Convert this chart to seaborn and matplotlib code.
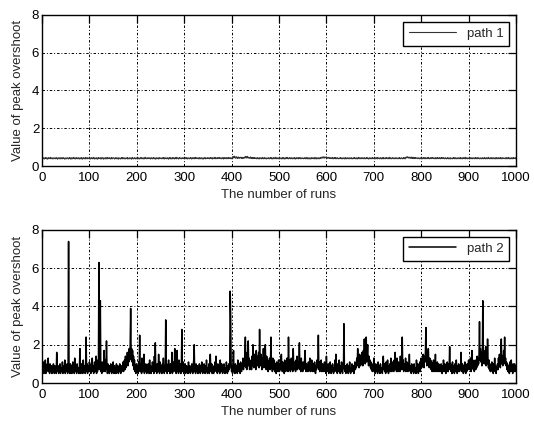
import numpy as np
import matplotlib
matplotlib.use("Agg")
import matplotlib.pyplot as plt
import seaborn as sns

# valeurs (1000 runs par chemin)
path1 = [
    0.42, 0.39, 0.44, 0.41, 0.37, 0.43, 0.40, 0.45, 0.38, 0.42, 0.41, 0.36, 0.44, 0.40, 0.43, 0.39, 0.42, 0.46, 0.38, 0.41, 0.44, 0.40, 0.37, 0.43, 0.41,
    0.40, 0.43, 0.38, 0.42, 0.45, 0.39, 0.41, 0.36, 0.44, 0.42, 0.40, 0.43, 0.37, 0.41, 0.45, 0.39, 0.42, 0.38, 0.44, 0.40, 0.43, 0.41, 0.36, 0.42, 0.39,
    0.43, 0.38, 0.41, 0.44, 0.40, 0.37, 0.42, 0.45, 0.39, 0.43, 0.36, 0.41, 0.44, 0.38, 0.42, 0.40, 0.46, 0.39, 0.41, 0.37, 0.43, 0.40, 0.44, 0.38, 0.42,
    0.39, 0.44, 0.40, 0.37, 0.43, 0.41, 0.38, 0.45, 0.42, 0.36, 0.40, 0.44, 0.39, 0.43, 0.41, 0.37, 0.45, 0.40, 0.42, 0.38, 0.44, 0.39, 0.41, 0.43, 0.40,
    0.41, 0.37, 0.43, 0.40, 0.44, 0.38, 0.42, 0.39, 0.46, 0.41, 0.37, 0.43, 0.40, 0.38, 0.44, 0.42, 0.36, 0.41, 0.45, 0.39, 0.42, 0.40, 0.43, 0.37, 0.44,
    0.38, 0.42, 0.45, 0.40, 0.36, 0.43, 0.41, 0.39, 0.44, 0.37, 0.42, 0.40, 0.46, 0.38, 0.41, 0.43, 0.39, 0.44, 0.40, 0.37, 0.42, 0.45, 0.38, 0.41, 0.43,
    0.44, 0.40, 0.37, 0.42, 0.39, 0.45, 0.41, 0.38, 0.43, 0.40, 0.36, 0.44, 0.42, 0.39, 0.41, 0.37, 0.43, 0.40, 0.45, 0.38, 0.42, 0.39, 0.44, 0.41, 0.37,
    0.40, 0.43, 0.39, 0.41, 0.45, 0.37, 0.42, 0.40, 0.38, 0.44, 0.41, 0.39, 0.43, 0.36, 0.42, 0.45, 0.40, 0.38, 0.41, 0.44, 0.39, 0.42, 0.37, 0.43, 0.40,
    0.42, 0.38, 0.44, 0.40, 0.37, 0.41, 0.43, 0.39, 0.45, 0.42, 0.38, 0.40, 0.44, 0.41, 0.37, 0.43, 0.39, 0.46, 0.40, 0.42, 0.38, 0.41, 0.44, 0.39, 0.43,
    0.39, 0.43, 0.41, 0.37, 0.44, 0.40, 0.42, 0.38, 0.41, 0.45, 0.39, 0.43, 0.40, 0.36, 0.42, 0.44, 0.38, 0.41, 0.43, 0.40, 0.37, 0.45, 0.41, 0.39, 0.42,
    0.43, 0.40, 0.38, 0.44, 0.41, 0.39, 0.45, 0.37, 0.42, 0.40, 0.43, 0.38, 0.41, 0.44, 0.39, 0.42, 0.36, 0.43, 0.40, 0.45, 0.38, 0.42, 0.41, 0.37, 0.44,
    0.41, 0.44, 0.39, 0.42, 0.37, 0.43, 0.40, 0.46, 0.38, 0.41, 0.44, 0.40, 0.37, 0.42, 0.45, 0.39, 0.41, 0.43, 0.38, 0.40, 0.44, 0.42, 0.39, 0.43, 0.40,
    0.38, 0.42, 0.40, 0.45, 0.39, 0.41, 0.37, 0.44, 0.42, 0.40, 0.38, 0.43, 0.41, 0.45, 0.39, 0.37, 0.42, 0.44, 0.40, 0.43, 0.38, 0.41, 0.46, 0.39, 0.42,
    0.44, 0.39, 0.42, 0.40, 0.43, 0.37, 0.41, 0.45, 0.40, 0.38, 0.42, 0.44, 0.39, 0.41, 0.36, 0.43, 0.40, 0.42, 0.45, 0.38, 0.41, 0.39, 0.43, 0.40, 0.44,
    0.40, 0.42, 0.38, 0.43, 0.41, 0.45, 0.39, 0.40, 0.44, 0.37, 0.42, 0.40, 0.43, 0.39, 0.46, 0.41, 0.38, 0.42, 0.40, 0.44, 0.39, 0.43, 0.41, 0.45, 0.42,
    0.39, 0.43, 0.41, 0.38, 0.44, 0.40, 0.42, 0.37, 0.45, 0.41, 0.39, 0.43, 0.40, 0.44, 0.38, 0.42, 0.41, 0.45, 0.39, 0.43, 0.40, 0.44, 0.42, 0.38, 0.41,
    0.44, 0.48, 0.42, 0.50, 0.45, 0.52, 0.43, 0.47, 0.41, 0.49, 0.44, 0.46, 0.40, 0.48, 0.43, 0.45, 0.41, 0.47, 0.44, 0.42, 0.46, 0.40, 0.44, 0.42, 0.45,
    0.41, 0.47, 0.43, 0.50, 0.44, 0.48, 0.42, 0.51, 0.45, 0.43, 0.47, 0.41, 0.45, 0.43, 0.48, 0.40, 0.44, 0.42, 0.46, 0.39, 0.43, 0.41, 0.45, 0.40, 0.42,
    0.40, 0.43, 0.38, 0.42, 0.45, 0.39, 0.41, 0.37, 0.44, 0.42, 0.40, 0.43, 0.38, 0.41, 0.45, 0.39, 0.42, 0.38, 0.44, 0.40, 0.43, 0.41, 0.37, 0.42, 0.39,
    0.42, 0.39, 0.44, 0.41, 0.38, 0.43, 0.40, 0.45, 0.38, 0.42, 0.41, 0.37, 0.44, 0.40, 0.43, 0.39, 0.42, 0.46, 0.38, 0.41, 0.44, 0.40, 0.38, 0.43, 0.41,
    0.43, 0.38, 0.41, 0.44, 0.40, 0.37, 0.42, 0.45, 0.39, 0.43, 0.37, 0.41, 0.44, 0.38, 0.42, 0.40, 0.46, 0.39, 0.41, 0.38, 0.43, 0.40, 0.44, 0.38, 0.42,
    0.39, 0.44, 0.40, 0.38, 0.43, 0.41, 0.38, 0.45, 0.42, 0.37, 0.40, 0.44, 0.39, 0.43, 0.41, 0.38, 0.45, 0.40, 0.42, 0.38, 0.44, 0.39, 0.41, 0.43, 0.40,
    0.41, 0.38, 0.43, 0.40, 0.44, 0.38, 0.42, 0.39, 0.46, 0.41, 0.37, 0.43, 0.40, 0.38, 0.44, 0.42, 0.37, 0.41, 0.45, 0.39, 0.42, 0.40, 0.43, 0.38, 0.44,
    0.38, 0.42, 0.45, 0.40, 0.37, 0.43, 0.41, 0.39, 0.44, 0.38, 0.42, 0.40, 0.46, 0.41, 0.44, 0.48, 0.42, 0.47, 0.43, 0.49, 0.42, 0.46, 0.44, 0.48, 0.43,
    0.47, 0.42, 0.45, 0.41, 0.46, 0.43, 0.40, 0.44, 0.42, 0.39, 0.43, 0.40, 0.45, 0.38, 0.42, 0.39, 0.44, 0.41, 0.45, 0.38, 0.42, 0.39, 0.44, 0.41, 0.38,
    0.40, 0.43, 0.39, 0.41, 0.45, 0.38, 0.42, 0.40, 0.38, 0.44, 0.41, 0.39, 0.43, 0.37, 0.42, 0.45, 0.40, 0.38, 0.41, 0.44, 0.39, 0.42, 0.38, 0.43, 0.40,
    0.42, 0.38, 0.44, 0.40, 0.38, 0.41, 0.43, 0.39, 0.45, 0.42, 0.38, 0.40, 0.44, 0.41, 0.37, 0.43, 0.39, 0.46, 0.40, 0.42, 0.38, 0.41, 0.44, 0.39, 0.43,
    0.39, 0.43, 0.41, 0.38, 0.44, 0.40, 0.42, 0.38, 0.41, 0.45, 0.39, 0.43, 0.40, 0.37, 0.42, 0.44, 0.38, 0.41, 0.43, 0.40, 0.38, 0.45, 0.41, 0.39, 0.42,
    0.43, 0.40, 0.38, 0.44, 0.41, 0.39, 0.45, 0.38, 0.42, 0.40, 0.43, 0.38, 0.41, 0.44, 0.39, 0.42, 0.37, 0.43, 0.40, 0.45, 0.38, 0.42, 0.41, 0.38, 0.44,
    0.41, 0.44, 0.39, 0.42, 0.38, 0.43, 0.40, 0.46, 0.38, 0.41, 0.44, 0.40, 0.38, 0.42, 0.45, 0.39, 0.41, 0.43, 0.38, 0.40, 0.44, 0.42, 0.39, 0.43, 0.40,
    0.38, 0.42, 0.40, 0.45, 0.39, 0.41, 0.38, 0.44, 0.42, 0.40, 0.38, 0.43, 0.41, 0.45, 0.39, 0.38, 0.42, 0.47, 0.43, 0.49, 0.44, 0.48, 0.42, 0.46, 0.43,
    0.47, 0.41, 0.45, 0.42, 0.48, 0.40, 0.44, 0.42, 0.46, 0.39, 0.43, 0.41, 0.45, 0.40, 0.42, 0.44, 0.39, 0.41, 0.43, 0.40, 0.38, 0.42, 0.44, 0.39, 0.41,
    0.40, 0.42, 0.38, 0.43, 0.41, 0.45, 0.39, 0.40, 0.44, 0.38, 0.42, 0.40, 0.43, 0.39, 0.46, 0.41, 0.38, 0.42, 0.40, 0.44, 0.39, 0.43, 0.41, 0.45, 0.42,
    0.39, 0.43, 0.41, 0.38, 0.44, 0.40, 0.42, 0.38, 0.45, 0.41, 0.39, 0.43, 0.40, 0.44, 0.38, 0.42, 0.41, 0.45, 0.39, 0.43, 0.40, 0.44, 0.42, 0.38, 0.41,
    0.44, 0.40, 0.38, 0.42, 0.39, 0.45, 0.41, 0.38, 0.43, 0.40, 0.37, 0.44, 0.42, 0.39, 0.41, 0.38, 0.43, 0.40, 0.45, 0.38, 0.42, 0.39, 0.44, 0.41, 0.38,
    0.42, 0.39, 0.44, 0.41, 0.38, 0.43, 0.40, 0.45, 0.38, 0.42, 0.41, 0.38, 0.44, 0.40, 0.43, 0.39, 0.42, 0.46, 0.38, 0.41, 0.44, 0.40, 0.38, 0.43, 0.41,
    0.40, 0.43, 0.38, 0.42, 0.45, 0.39, 0.41, 0.38, 0.44, 0.42, 0.40, 0.43, 0.38, 0.41, 0.45, 0.39, 0.42, 0.38, 0.44, 0.40, 0.43, 0.41, 0.38, 0.42, 0.39,
    0.43, 0.38, 0.41, 0.44, 0.40, 0.38, 0.42, 0.45, 0.39, 0.43, 0.38, 0.41, 0.44, 0.38, 0.42, 0.40, 0.46, 0.39, 0.41, 0.38, 0.43, 0.40, 0.44, 0.38, 0.42,
    0.39, 0.44, 0.40, 0.38, 0.43, 0.41, 0.38, 0.45, 0.42, 0.38, 0.40, 0.44, 0.39, 0.43, 0.41, 0.38, 0.45, 0.40, 0.42, 0.38, 0.44, 0.39, 0.41, 0.43, 0.40,
    0.41, 0.38, 0.43, 0.40, 0.44, 0.38, 0.42, 0.39, 0.46, 0.41, 0.38, 0.43, 0.40, 0.38, 0.44, 0.42, 0.38, 0.41, 0.45, 0.39, 0.42, 0.40, 0.43, 0.38, 0.44,
]

path2 = [
    0.9, 0.6, 1.1, 0.5, 0.8, 0.7, 1.2, 0.5, 0.9, 0.6, 1.0, 0.7, 1.3, 0.6, 0.8, 0.5, 1.0, 0.7, 0.6, 0.9,
    0.5, 0.8, 0.6, 1.0, 0.7, 0.5, 0.9, 0.6, 0.8, 0.5, 1.6, 0.7, 0.6, 0.9, 0.5, 0.8, 0.6, 1.0, 0.5, 0.7,
    0.8, 0.6, 1.1, 0.5, 0.7, 0.9, 0.6, 1.2, 0.5, 0.8, 0.7, 0.6, 1.0, 0.5, 0.9, 7.4, 0.6, 0.8, 0.5, 1.0,
    0.6, 0.9, 0.5, 0.7, 1.1, 0.6, 0.8, 0.5, 1.3, 0.7, 0.6, 0.9, 0.5, 1.0, 0.7, 0.6, 0.8, 0.5, 0.9, 1.8,
    0.7, 0.5, 1.0, 0.6, 0.8, 0.5, 1.2, 0.7, 0.6, 0.9, 0.5, 0.8, 2.4, 0.6, 1.0, 0.5, 0.7, 0.9, 0.6, 1.1,
    0.6, 0.8, 0.5, 1.0, 0.7, 1.3, 0.6, 0.9, 0.5, 0.8, 1.1, 0.6, 0.7, 1.4, 0.5, 0.9, 0.6, 1.2, 0.8, 6.3,
    0.7, 1.0, 4.3, 0.6, 0.9, 0.5, 1.1, 0.7, 0.6, 1.0, 1.7, 0.8, 0.6, 1.2, 0.7, 2.2, 0.9, 0.5, 1.0, 0.6,
    0.8, 0.5, 0.9, 0.6, 1.0, 0.7, 0.5, 0.8, 0.6, 1.1, 0.7, 0.5, 0.9, 0.6, 0.8, 0.5, 1.0, 0.7, 0.6, 0.9,
    0.5, 0.8, 0.6, 1.0, 0.7, 0.5, 0.9, 0.6, 0.8, 0.7, 1.1, 0.6, 0.9, 1.2, 0.7, 1.4, 0.8, 1.3, 1.0, 1.6,
    0.9, 1.5, 1.1, 1.8, 1.2, 2.0, 3.9, 1.3, 1.8, 1.1, 1.7, 0.9, 1.4, 0.7, 1.2, 0.6, 0.9, 0.5, 1.0, 0.7,
    0.6, 0.9, 0.5, 1.1, 0.7, 2.5, 0.6, 1.0, 0.8, 0.5, 1.3, 0.6, 0.9, 0.7, 1.5, 0.5, 0.8, 0.6, 1.0, 0.7,
    0.5, 0.8, 0.6, 1.0, 0.7, 0.5, 1.2, 0.6, 0.9, 0.5, 0.8, 0.7, 1.1, 0.6, 0.9, 0.5, 1.4, 0.7, 2.1, 0.6,
    0.9, 0.5, 1.0, 0.7, 0.6, 1.5, 0.8, 0.5, 1.1, 0.6, 0.9, 0.7, 0.5, 1.0, 0.6, 1.3, 0.8, 0.5, 0.9, 0.7,
    3.3, 0.6, 1.0, 0.5, 0.8, 0.7, 1.2, 0.6, 0.9, 0.5, 1.0, 0.7, 0.6, 1.6, 0.5, 0.8, 0.6, 1.1, 0.7, 1.8,
    0.6, 0.9, 0.5, 1.0, 1.7, 0.6, 0.8, 0.5, 1.2, 0.7, 0.6, 1.0, 0.5, 0.9, 2.8, 0.7, 0.6, 1.1, 0.5, 0.8,
    0.6, 1.0, 0.5, 0.7, 0.9, 0.6, 0.8, 0.5, 1.1, 0.7, 0.6, 0.9, 0.5, 0.8, 0.6, 1.0, 0.7, 0.5, 0.9, 1.2,
    2.0, 0.6, 0.8, 0.5, 1.0, 0.7, 0.6, 0.9, 0.5, 0.8, 0.6, 1.0, 0.7, 0.5, 0.9, 0.6, 1.1, 0.7, 0.5, 0.8,
    0.6, 1.0, 0.7, 0.5, 0.9, 0.6, 1.2, 0.7, 0.5, 0.8, 0.6, 1.0, 0.5, 0.9, 1.5, 0.7, 0.6, 1.0, 0.5, 0.8,
    0.7, 0.5, 0.9, 0.6, 1.1, 0.7, 1.4, 0.6, 0.8, 0.5, 1.0, 0.7, 0.6, 0.9, 0.5, 1.2, 0.8, 0.6, 1.0, 0.7,
    0.5, 0.9, 0.6, 1.0, 0.7, 0.5, 0.8, 0.6, 1.1, 0.7, 0.5, 0.9, 0.6, 1.0, 0.7, 0.8, 4.8, 3.5, 1.0, 0.6,
    0.9, 0.5, 1.1, 1.7, 0.6, 0.8, 0.5, 1.0, 0.7, 0.6, 0.9, 0.5, 1.2, 0.7, 0.6, 1.0, 0.8, 0.5, 1.1, 0.7,
    0.6, 1.0, 0.8, 1.3, 0.7, 1.1, 0.9, 1.5, 2.4, 0.8, 1.2, 0.7, 1.6, 1.0, 2.2, 0.9, 1.3, 0.7, 1.1, 0.8,
    1.2, 0.7, 1.4, 0.9, 2.0, 1.1, 0.8, 1.5, 1.0, 1.3, 0.7, 1.7, 1.1, 0.9, 1.4, 1.0, 1.6, 0.8, 2.8, 1.2,
    0.9, 1.5, 1.1, 0.7, 1.3, 1.0, 1.8, 0.8, 1.2, 0.9, 2.0, 1.1, 0.7, 1.4, 0.9, 1.2, 0.6, 1.0, 0.8, 1.3,
    0.7, 1.1, 2.4, 0.8, 1.0, 0.6, 1.3, 0.9, 0.7, 1.2, 0.6, 1.0, 0.8, 0.5, 1.1, 0.7, 0.9, 0.6, 1.2, 0.8,
    0.6, 1.0, 0.7, 1.3, 1.5, 0.8, 0.6, 1.1, 0.7, 0.9, 0.5, 1.2, 0.8, 0.6, 1.0, 0.7, 1.3, 0.9, 0.6, 2.4,
    1.0, 0.7, 1.2, 0.6, 0.9, 1.3, 0.7, 1.0, 0.6, 1.8, 0.8, 1.1, 0.7, 0.9, 0.6, 1.2, 0.8, 1.4, 0.7, 1.0,
    0.8, 1.2, 2.1, 0.7, 1.0, 0.6, 1.3, 0.8, 0.9, 0.6, 1.1, 0.7, 0.9, 1.2, 1.7, 0.8, 0.6, 1.0, 0.7, 0.9,
    0.6, 1.1, 0.8, 0.7, 1.3, 0.6, 0.9, 0.7, 1.2, 0.6, 0.8, 1.0, 0.7, 0.6, 1.1, 0.8, 0.5, 0.9, 0.7, 1.2,
    0.8, 1.0, 2.5, 0.7, 1.1, 0.6, 0.9, 0.7, 1.2, 0.6, 0.8, 1.0, 0.6, 0.9, 0.7, 1.1, 0.6, 0.8, 0.5, 1.4,
    0.7, 0.9, 0.6, 1.0, 0.5, 0.8, 0.6, 1.1, 0.7, 0.5, 0.9, 0.6, 1.0, 0.7, 0.5, 0.8, 0.6, 1.2, 0.7, 1.5,
    0.6, 0.9, 0.5, 1.0, 0.7, 0.6, 1.2, 0.8, 0.5, 0.9, 0.6, 1.1, 0.7, 0.5, 1.0, 0.8, 3.1, 0.7, 0.6, 0.9,
    0.5, 0.8, 0.6, 1.0, 0.7, 0.5, 0.9, 0.6, 1.1, 0.7, 0.5, 0.8, 0.6, 1.0, 0.7, 0.6, 0.9, 0.5, 0.8, 1.1,
    0.7, 1.0, 0.8, 1.3, 0.9, 1.8, 1.0, 1.2, 0.8, 1.5, 1.1, 0.9, 1.4, 1.0, 1.6, 1.2, 0.9, 1.7, 1.1, 2.3,
    1.3, 1.0, 1.6, 2.4, 1.1, 1.5, 2.0, 1.2, 0.9, 1.4, 1.0, 1.2, 0.8, 1.1, 0.7, 1.0, 0.6, 0.9, 0.7, 1.3,
    0.6, 0.9, 0.5, 1.0, 0.7, 0.6, 0.8, 0.5, 1.1, 0.7, 0.6, 0.9, 0.5, 1.0, 0.7, 0.6, 0.8, 0.5, 0.9, 1.4,
    0.7, 1.0, 0.6, 0.9, 0.5, 1.1, 0.7, 0.6, 1.2, 0.8, 0.5, 0.9, 0.7, 1.0, 0.6, 1.3, 0.8, 0.6, 1.1, 0.7,
    0.9, 0.6, 1.2, 0.8, 1.6, 0.7, 1.0, 0.6, 1.3, 0.8, 0.6, 1.1, 0.7, 1.0, 0.6, 1.4, 0.8, 1.1, 0.7, 2.4,
    0.8, 1.2, 0.6, 1.0, 0.7, 0.9, 1.3, 0.6, 0.8, 1.1, 0.7, 0.6, 1.0, 0.8, 1.5, 0.7, 0.6, 0.9, 0.5, 1.0,
    0.7, 0.6, 0.9, 0.5, 1.0, 0.7, 0.6, 0.8, 0.5, 1.2, 0.7, 0.6, 1.0, 0.5, 0.8, 0.7, 1.1, 0.6, 0.9, 1.3,
    0.8, 1.2, 0.9, 1.5, 1.0, 0.8, 1.4, 1.1, 1.7, 2.9, 1.2, 0.9, 1.6, 1.0, 1.8, 1.1, 0.8, 1.3, 0.9, 1.2,
    0.7, 1.1, 0.6, 0.9, 0.7, 1.2, 0.6, 1.0, 0.8, 1.5, 0.6, 0.9, 0.7, 1.1, 0.6, 0.8, 1.0, 0.6, 0.9, 0.7,
    0.6, 1.0, 0.7, 0.5, 0.9, 0.6, 1.2, 0.8, 0.6, 1.0, 0.7, 0.5, 0.9, 0.6, 1.1, 0.7, 0.6, 1.0, 0.8, 1.9,
    0.7, 1.0, 0.6, 0.8, 0.5, 1.1, 0.7, 0.6, 0.9, 0.5, 1.0, 0.7, 0.6, 1.2, 0.8, 0.5, 0.9, 0.6, 1.0, 0.7,
    0.6, 0.9, 0.7, 1.6, 0.8, 0.6, 1.0, 0.7, 0.5, 0.9, 0.6, 1.1, 0.7, 0.5, 0.8, 0.6, 1.0, 0.7, 0.9, 1.2,
    0.7, 1.0, 0.8, 1.3, 0.6, 1.1, 1.7, 0.8, 1.2, 0.7, 1.0, 0.6, 0.9, 1.2, 0.7, 1.0, 0.8, 1.4, 0.9, 1.3,
    1.0, 1.5, 3.2, 1.2, 1.8, 1.1, 1.6, 0.9, 1.4, 4.3, 1.2, 1.7, 1.0, 1.5, 1.1, 1.9, 0.9, 1.3, 1.0, 2.3,
    1.1, 0.8, 1.2, 0.7, 1.0, 0.6, 0.9, 0.7, 1.1, 0.6, 0.8, 0.5, 1.0, 0.7, 1.3, 0.6, 0.9, 0.5, 0.8, 0.7,
    1.0, 0.7, 1.3, 0.9, 1.5, 1.1, 0.8, 1.6, 2.3, 1.0, 1.4, 0.9, 1.2, 1.7, 1.0, 2.4, 1.1, 1.3, 0.9, 1.1,
    0.7, 1.0, 0.6, 0.9, 0.7, 0.5, 1.1, 0.8, 0.6, 1.2, 0.7, 0.9, 0.5, 1.0, 0.7, 0.6, 1.0, 0.8, 0.6, 0.9,
]

series = [("path 1", path1, "#333333", 0.8), ("path 2", path2, "black", 1.1)]
x_ticks = [0, 100, 200, 300, 400, 500, 600, 700, 800, 900, 1000]
y_ticks = [0, 2, 4, 6, 8]

sns.set_style("white")
plt.rcParams["font.family"] = ["Liberation Sans", "DejaVu Sans"]
plt.rcParams["font.size"] = 9

fig = plt.figure(figsize=(5.34, 4.22), dpi=100)
positions = [[0.0787, 0.6066, 0.8876, 0.358], [0.0787, 0.0924, 0.8876, 0.3626]]
grid_style = (0, (2.5, 2, 1, 2))

for pos, (name, values, col, lw) in zip(positions, series):
    ax = fig.add_axes(pos)
    runs = np.arange(1, len(values) + 1)
    sns.lineplot(x=runs, y=values, ax=ax, color=col, linewidth=lw,
                 estimator=None, errorbar=None, label=name)
    ax.set_xlim(0, 1000)
    ax.set_ylim(0, 8)
    ax.set_xticks(x_ticks)
    ax.set_yticks(y_ticks)
    ax.grid(True, color="black", linestyle=grid_style, linewidth=0.7)
    ax.set_axisbelow(True)
    for s in ax.spines.values():
        s.set_visible(True)
        s.set_color("black")
        s.set_linewidth(1.0)
    ax.tick_params(direction="in", length=5.5, width=0.9, top=True, right=True,
                   labelsize=9.5, colors="black")
    ax.tick_params(axis="x", pad=4)
    ax.tick_params(axis="y", pad=2)
    ax.set_xlabel("The number of runs", fontsize=9.5, labelpad=4)
    ax.set_ylabel("Value of peak overshoot", fontsize=9.5, labelpad=6)
    leg = ax.legend(loc="upper right", frameon=True, fancybox=False, framealpha=1,
                    edgecolor="black", handlelength=3.6, borderaxespad=0.5,
                    borderpad=0.45, fontsize=9.5)
    leg.get_frame().set_linewidth(1.0)

fig.savefig("out.png", dpi=100)
